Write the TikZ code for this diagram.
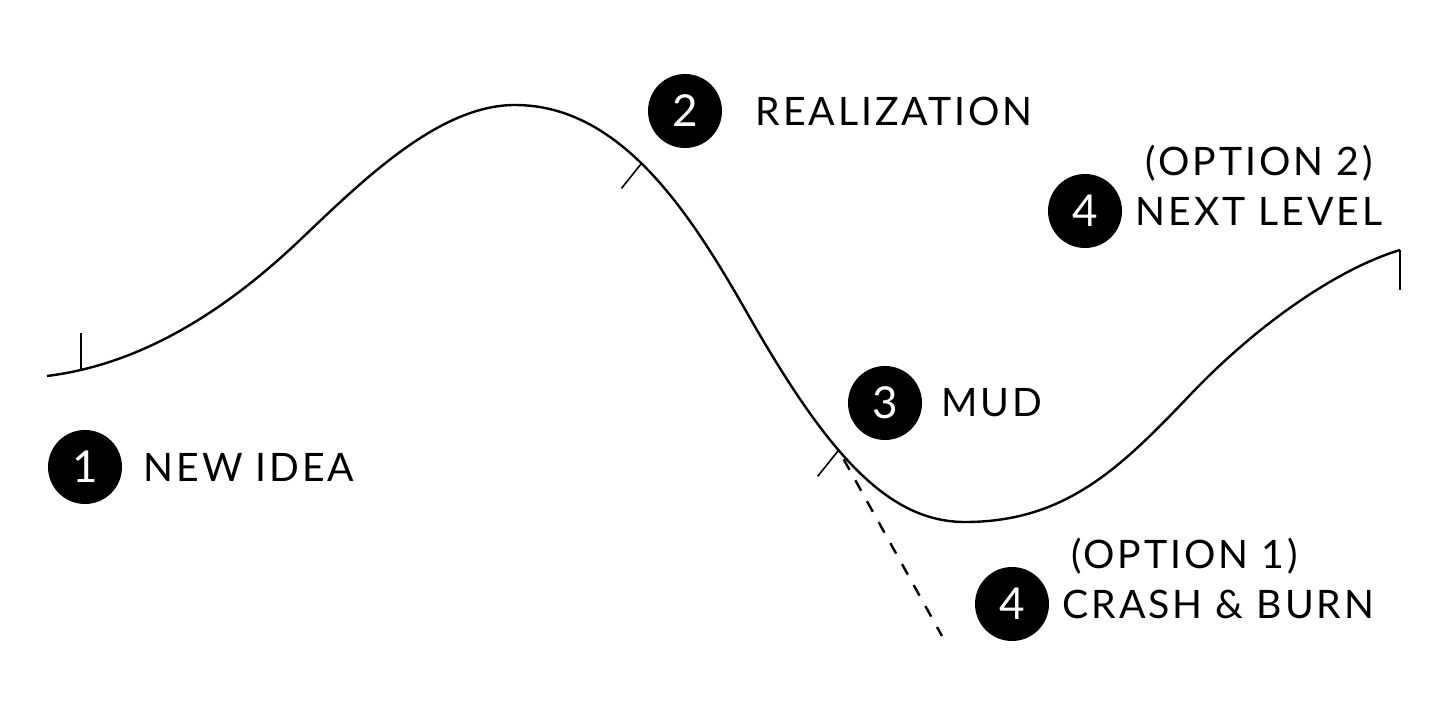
\documentclass[tikz,border=0pt]{standalone}
\usepackage{fontspec}
\setmainfont[LetterSpace=7.5]{Lato}
\usetikzlibrary{positioning}

\begin{document}
\begin{tikzpicture}[
    x=0.25pt, y=-0.25pt,
    font=\fontsize{9.8}{12}\selectfont,
    node distance=5pt,
    numdot/.style={circle, fill=black, text=white, minimum size=18.5pt, inner sep=0pt, font=\fontsize{11}{12}\selectfont},
    steplabel/.style={inner sep=0pt, anchor=west},
    optlabel/.style={inner sep=0pt, anchor=base},
    curve/.style={line width=0.6pt},
    tick/.style={line width=0.4pt}
]
\useasboundingbox (0,0) rectangle (1434,716);
% the path
\coordinate (s) at (47,376);
\coordinate (i1) at (300,240);
\coordinate (p) at (515,105);
\coordinate (i2) at (750,318);
\coordinate (m) at (965,522);
\coordinate (i3) at (1190,395);
\coordinate (e) at (1400,250);
\draw[curve] (s) .. controls (127,366) and (210,325.5) .. (i1) coordinate[pos=0.14] (t1)
    .. controls (365,178) and (440,105) .. (p)
    .. controls (625,105) and (695,221.75) .. (i2) coordinate[pos=0.45] (t2)
    .. controls (830,458) and (890,522) .. (m) coordinate[pos=0.4] (t3)
    .. controls (1065,522) and (1120,468.5) .. (i3)
    .. controls (1260,321.5) and (1340,268) .. (e);
\draw[tick] (t1) -- ++(0,-37);
\draw[tick] (t2) -- ++(-20,25);
\draw[tick] (t3) -- ++(-21,26);
\draw[tick] (e) -- ++(0,40);
\coordinate (d0) at ([shift={(5,9)}]t3);
\coordinate (d1) at (942,636);
\draw[curve, dash pattern=on 3pt off 3pt] (d0) -- (d1);
% stages
\node[numdot] (c1) at (85,467) {1};
\node[steplabel, right=5pt of c1] (l1) {NEW IDEA};
\node[numdot] (c2) at (685,111) {2};
\node[steplabel, right=8pt of c2] (l2) {REALIZATION};
\node[numdot] (c3) at (885,403) {3};
\node[steplabel, right=4.5pt of c3] (l3) {MUD};
\node[numdot] (c4) at (1085,211) {4};
\node[steplabel, right=3pt of c4] (l4) {NEXT LEVEL};
\node[optlabel, above=12.5pt of l4.base, anchor=base] (o4) {(OPTION 2)};
\node[numdot] (c5) at (1012,604) {4};
\node[steplabel, right=3pt of c5] (l5) {CRASH \& BURN};
\node[optlabel, above=12.5pt of l5.base, anchor=base, xshift=-8.5pt] (o5) {(OPTION 1)};
\end{tikzpicture}
\end{document}
